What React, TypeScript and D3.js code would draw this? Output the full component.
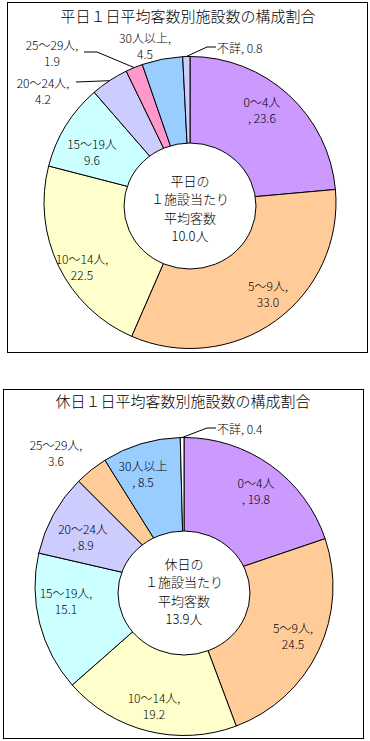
import React from "react";
import * as d3 from "d3";

// 客数区分
const categories = ["0～4人", "5～9人", "10～14人", "15～19人", "20～24人", "25～29人", "30人以上", "不詳"];
const weekdayValues = [23.6, 33.0, 22.5, 9.6, 4.2, 1.9, 4.5, 0.8];
const holidayValues = [19.8, 24.5, 19.2, 15.1, 8.9, 3.6, 8.5, 0.4];
const weekdayColors = ["#CC99FF", "#FFCC99", "#FFFFCC", "#CCFFFF", "#CCCCFF", "#FF99CC", "#99CCFF", "#CCCCFF"];
const holidayColors = ["#CC99FF", "#FFCC99", "#FFFFCC", "#CCFFFF", "#CCCCFF", "#FFCC99", "#99CCFF", "#FFFFFF"];
const weekdayCenter = ["平日の", "１施設当たり", "平均客数", "10.0人"];
const holidayCenter = ["休日の", "１施設当たり", "平均客数", "13.9人"];

// label style: "l1" comma after category, "l2" comma before value, "n" no comma, "one" single line
type LabelLayout = { x: number; y: number; mode: string; anchor?: string; leader?: [number, number][] };

const weekdayLabels: LabelLayout[] = [
  { x: 262, y: 101, mode: "l2" },
  { x: 268, y: 285, mode: "l1" },
  { x: 82, y: 258, mode: "l1" },
  { x: 92, y: 143, mode: "n" },
  { x: 43, y: 82, mode: "l1", leader: [[76, 82]] },
  { x: 52, y: 44, mode: "l1", leader: [[97, 52], [84, 52]] },
  { x: 145, y: 37, mode: "l1" },
  { x: 217, y: 47, mode: "one", anchor: "start", leader: [[207, 47], [216, 47]] },
];

const holidayLabels: LabelLayout[] = [
  { x: 256, y: 482, mode: "l2" },
  { x: 293, y: 627, mode: "l1" },
  { x: 154, y: 697, mode: "l1" },
  { x: 66, y: 592, mode: "l1" },
  { x: 83, y: 528, mode: "l2" },
  { x: 56, y: 444, mode: "l1" },
  { x: 143, y: 465, mode: "l2" },
  { x: 217, y: 428, mode: "one", anchor: "start", leader: [[207, 428], [216, 428]] },
];

const FONT = "'Noto Sans CJK JP', 'Noto Sans', sans-serif";

type PieProps = {
  title: string;
  values: number[];
  colors: string[];
  centerText: string[];
  labels: LabelLayout[];
  frame: [number, number, number, number];
  titleY: number;
  titleX: number;
  cx: number;
  cy: number;
  r: number;
  hole: { cx: number; cy: number; rx: number; ry: number };
  centerY: number;
};

const DonutPanel = (p: PieProps) => {
  const pie = d3.pie<number>().sort(null).value((d) => d);
  const arcs = pie(p.values);
  const arc = d3.arc<d3.PieArcDatum<number>>().innerRadius(0).outerRadius(p.r);
  const edge = (d: d3.PieArcDatum<number>): [number, number] => {
    const a = (d.startAngle + d.endAngle) / 2;
    return [p.cx + p.r * Math.sin(a), p.cy - p.r * Math.cos(a)];
  };
  const [fx, fy, fw, fh] = p.frame;
  return (
    <g fontFamily={FONT} fontWeight={300}>
      <rect x={fx + 0.5} y={fy + 0.5} width={fw} height={fh} fill="#fff" stroke="#000" strokeWidth={1} />
      <text x={p.titleX} y={p.titleY} textAnchor="middle" dominantBaseline="central" fontSize={15}>
        {p.title}
      </text>
      <g transform={`translate(${p.cx},${p.cy})`}>
        {arcs.map((d, i) => (
          <path key={i} d={arc(d) || ""} fill={p.colors[i]} stroke="#000" strokeWidth={1} />
        ))}
      </g>
      <ellipse cx={p.hole.cx} cy={p.hole.cy} rx={p.hole.rx} ry={p.hole.ry} fill="#fff" stroke="#000" strokeWidth={1} />
      {p.centerText.map((t, i) => (
        <text key={i} x={p.hole.cx} y={p.centerY + (i - 1.5) * 18.5} textAnchor="middle" dominantBaseline="central" fontSize={13}>
          {t}
        </text>
      ))}
      {arcs.map((d, i) => {
        const L = p.labels[i];
        const v = p.values[i].toFixed(1);
        const cat = categories[i];
        const lines =
          L.mode === "one" ? [`${cat}, ${v}`] : L.mode === "l1" ? [`${cat},`, v] : L.mode === "l2" ? [cat, `, ${v}`] : [cat, v];
        const pts = L.leader ? [edge(d), ...L.leader] : null;
        return (
          <g key={i}>
            {pts && <polyline points={pts.map((q) => q.join(",")).join(" ")} fill="none" stroke="#000" strokeWidth={1} />}
            {lines.map((t, j) => (
              <text key={j} x={L.x} y={L.y + j * 16} textAnchor={L.anchor || "middle"} dominantBaseline="central" fontSize={12}>
                {t}
              </text>
            ))}
          </g>
        );
      })}
    </g>
  );
};

export default function App() {
  return (
    <svg width={370} height={741} style={{ position: "absolute", left: 0, top: 0, background: "#fff" }}>
      <DonutPanel
        title="平日１日平均客数別施設数の構成割合"
        values={weekdayValues}
        colors={weekdayColors}
        centerText={weekdayCenter}
        labels={weekdayLabels}
        frame={[7, 2, 360, 350]}
        titleX={188}
        titleY={15}
        cx={190}
        cy={202.5}
        r={146}
        hole={{ cx: 190, cy: 206, rx: 66, ry: 63 }}
        centerY={208}
      />
      <DonutPanel
        title="休日１日平均客数別施設数の構成割合"
        values={holidayValues}
        colors={holidayColors}
        centerText={holidayCenter}
        labels={holidayLabels}
        frame={[3, 389, 360, 349]}
        titleX={183}
        titleY={400}
        cx={184}
        cy={586.5}
        r={149}
        hole={{ cx: 184, cy: 593, rx: 66, ry: 62 }}
        centerY={591}
      />
    </svg>
  );
}
